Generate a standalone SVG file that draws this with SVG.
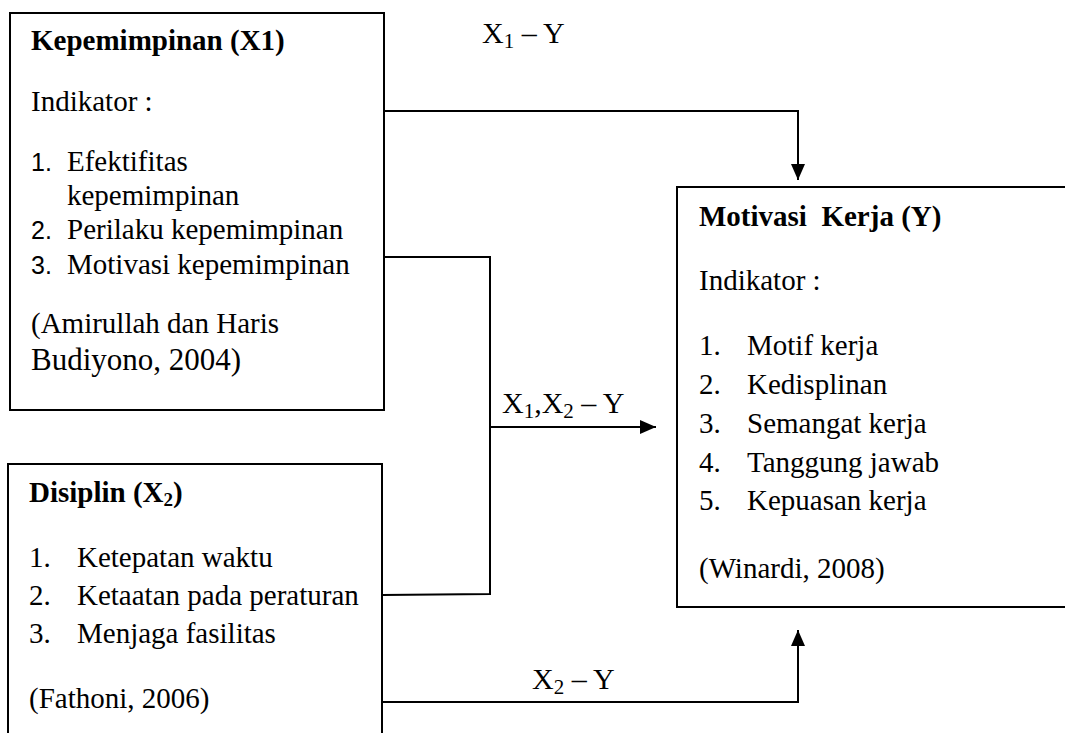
<svg xmlns="http://www.w3.org/2000/svg" width="1065" height="733" viewBox="0 0 1065 733">
<style>
  .box { fill: #fff; stroke: #000; stroke-width: 2; }
  .serif { font-family: "Liberation Serif", "Times New Roman", Times, serif; font-size: 29px; fill: #000; }
  .hd { font-family: "Liberation Serif", "Times New Roman", Times, serif; font-size: 29px; font-weight: bold; fill: #000; white-space: pre; }
  .num { font-family: "Liberation Sans", Arial, sans-serif; font-size: 25px; fill: #000; }
  .lbl { font-family: "Liberation Serif", "Times New Roman", Times, serif; font-size: 30px; fill: #000; white-space: pre; }
  .sub { font-size: 21px; }
  .line { fill: none; stroke: #000; stroke-width: 2; }
</style>
<defs>
  <marker id="arr" viewBox="0 0 16 14" refX="16" refY="7" markerWidth="16" markerHeight="14" markerUnits="userSpaceOnUse" orient="auto">
    <path d="M0,0 L16,7 L0,14 Z" fill="#000"/>
  </marker>
</defs>
<rect width="1065" height="733" fill="#fff"/>

<g id="connectors">
  <polyline class="line" points="384,111 798,111 798,180" marker-end="url(#arr)"/>
  <polyline class="line" points="384,257 490,257 490,594 382,595"/>
  <line class="line" x1="490" y1="427" x2="656" y2="427" marker-end="url(#arr)"/>
  <polyline class="line" points="382,702 798,702 798,630" marker-end="url(#arr)"/>
  <text class="lbl" x="482" y="43">X<tspan class="sub" dy="5">1</tspan><tspan dy="-5"> – Y</tspan></text>
  <text class="lbl" x="502" y="413">X<tspan class="sub" dy="5">1</tspan><tspan dy="-5">,X</tspan><tspan class="sub" dy="5">2</tspan><tspan dy="-5"> – Y</tspan></text>
  <text class="lbl" x="532" y="689">X<tspan class="sub" dy="5">2</tspan><tspan dy="-5"> – Y</tspan></text>
</g>

<g id="kepemimpinan">
  <rect class="box" x="10" y="13" width="374" height="397"/>
  <text class="hd" x="31" y="50">Kepemimpinan (X1)</text>
  <g class="serif">
    <text x="31" y="111">Indikator :</text>
    <text x="67" y="171">Efektifitas</text>
    <text x="67" y="205">kepemimpinan</text>
    <text x="67" y="239">Perilaku kepemimpinan</text>
    <text x="67" y="274">Motivasi kepemimpinan</text>
    <text x="31" y="333">(Amirullah dan Haris</text>
    <text x="31" y="370" style="font-size:31px">Budiyono, 2004)</text>
  </g>
  <text class="num" x="31" y="171">1.</text>
  <text class="num" x="31" y="239">2.</text>
  <text class="num" x="31" y="274">3.</text>
</g>

<g id="disiplin">
  <rect class="box" x="8" y="464" width="374" height="300"/>
  <text class="hd" x="29" y="502">Disiplin (X<tspan style="font-size:19px" dy="4">2</tspan><tspan dy="-4">)</tspan></text>
  <g class="serif">
    <text x="29" y="567">1.</text>
    <text x="77" y="567">Ketepatan waktu</text>
    <text x="29" y="605">2.</text>
    <text x="77" y="605">Ketaatan pada peraturan</text>
    <text x="29" y="643">3.</text>
    <text x="77" y="643">Menjaga fasilitas</text>
    <text x="29" y="708">(Fathoni, 2006)</text>
  </g>
</g>

<g id="motivasi">
  <rect class="box" x="677" y="187" width="400" height="420"/>
  <text class="hd" x="699" y="226">Motivasi  Kerja (Y)</text>
  <g class="serif">
    <text x="699" y="290">Indikator :</text>
    <text x="699" y="355">1.</text>
    <text x="747" y="355">Motif kerja</text>
    <text x="699" y="394">2.</text>
    <text x="747" y="394">Kedisplinan</text>
    <text x="699" y="433">3.</text>
    <text x="747" y="433">Semangat kerja</text>
    <text x="699" y="472">4.</text>
    <text x="747" y="472">Tanggung jawab</text>
    <text x="699" y="510">5.</text>
    <text x="747" y="510">Kepuasan kerja</text>
    <text x="699" y="578">(Winardi, 2008)</text>
  </g>
</g>
</svg>
